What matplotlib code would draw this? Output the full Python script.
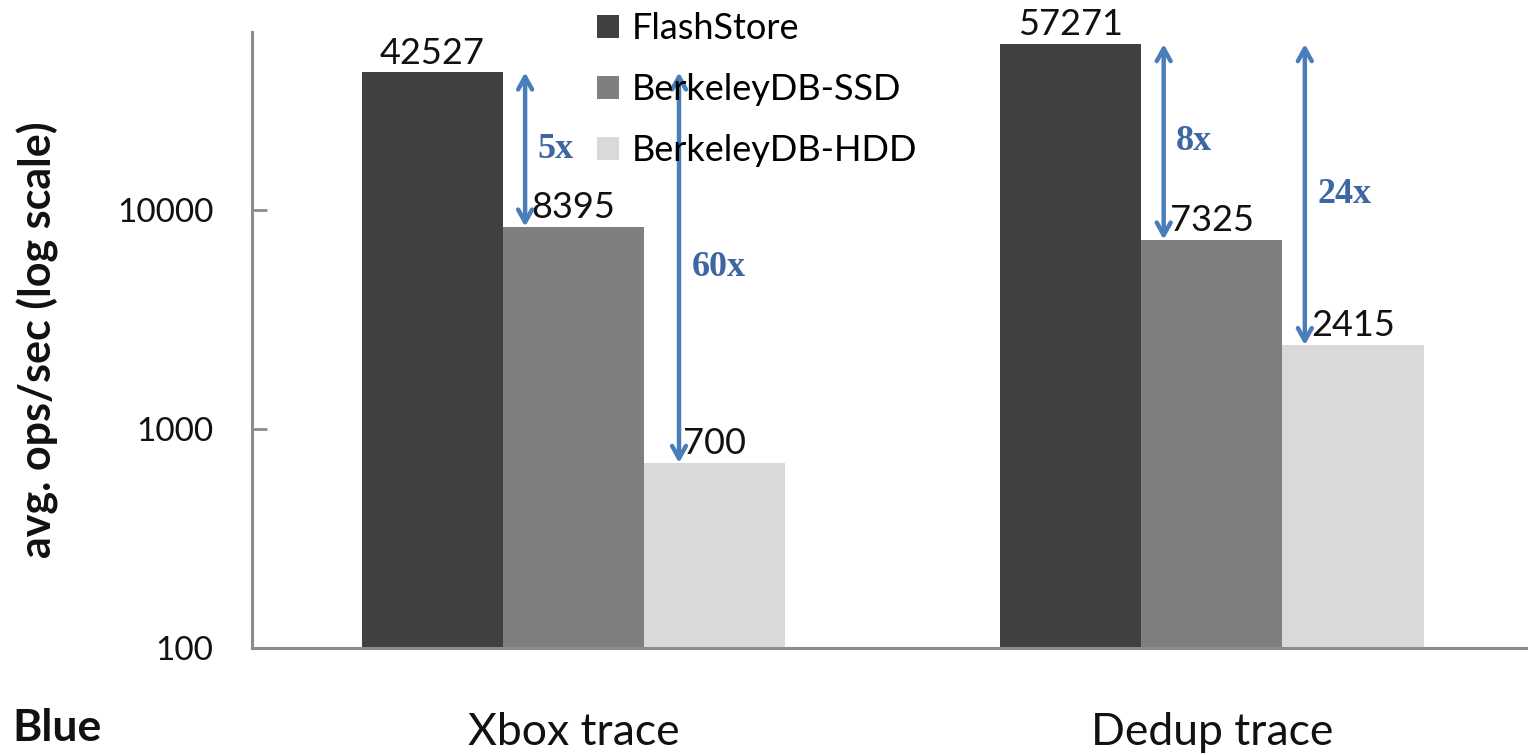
import numpy as np
import matplotlib
matplotlib.use("Agg")
import matplotlib.pyplot as plt

# data
groups = ["Xbox trace", "Dedup trace"]
series = ["FlashStore", "BerkeleyDB-SSD", "BerkeleyDB-HDD"]
flashstore = [42527, 57271]
bdb_ssd = [8395, 7325]
bdb_hdd = [700, 2415]
ratio_ssd = ["5x", "8x"]
ratio_hdd = ["60x", "24x"]

colors = ["#404040", "#7f7f7f", "#d9d9d9"]
arrow_c = "#4a7ebb"
ratio_c = "#3d67a2"
spine_c = "#8c8c8c"

plt.rcParams["font.family"] = ["Lato", "DejaVu Sans"]

fig = plt.figure(figsize=(15.28, 7.55), dpi=100)
ax = fig.add_axes([0.165, 0.1417, 0.835, 0.8159])

x = np.arange(len(groups))
w = 0.221
vals = [flashstore, bdb_ssd, bdb_hdd]
for i, (name, v) in enumerate(zip(series, vals)):
    xs = x + (i - 1) * w
    ax.bar(xs, v, width=w, color=colors[i], label=name, zorder=2)
    for xi, vi in zip(xs, v):
        ax.annotate(str(vi), (xi, vi), xytext=(0, 2), textcoords="offset points",
                    ha="center", va="bottom", fontsize=26, color="#111111")

ax.set_yscale("log")
ax.set_ylim(100, 65000)
ax.set_xlim(-0.503, 1.495)
ax.set_yticks([100, 1000, 10000])
ax.set_yticklabels(["100", "1000", "10000"])
ax.minorticks_off()
ax.tick_params(axis="y", direction="in", length=11, width=2, color=spine_c,
               labelsize=24, pad=28, labelcolor="#111111")
ax.tick_params(axis="x", length=0, labelsize=32, pad=46, labelcolor="#111111")
ax.set_xticks(x)
ax.set_xticklabels(groups)

for s in ["top", "right"]:
    ax.spines[s].set_visible(False)
for s in ["left", "bottom"]:
    ax.spines[s].set_color(spine_c)
    ax.spines[s].set_linewidth(2.2)

ax.set_ylabel("avg. ops/sec (log scale)", fontsize=31, fontweight="bold",
              color="#111111")
ax.yaxis.set_label_coords(-0.151, 0.5)

# ratio arrows
offsets = [0.035, 0.055]
for j in range(len(groups)):
    for k, (other, lab) in enumerate([(bdb_ssd, ratio_ssd), (bdb_hdd, ratio_hdd)]):
        left = x[j] + (k - 0.5) * w
        ax_x = left + (offsets[k] if j == 0 else 0.035)
        ax.annotate("", xy=(ax_x, other[j]), xytext=(ax_x, flashstore[j]),
                    arrowprops=dict(arrowstyle="<->,head_length=0.9,head_width=0.5",
                                    color=arrow_c, lw=3.2, shrinkA=0, shrinkB=0),
                    zorder=4)
        ym = np.sqrt(other[j] * flashstore[j])
        ax.annotate(lab[j], (ax_x, ym), xytext=(9, 0), textcoords="offset points",
                    ha="left", va="center", fontsize=26, fontweight="bold",
                    family="Liberation Serif", color=ratio_c, zorder=5)

fig.legend(loc="upper left", bbox_to_anchor=(597 / 1528, 1 - 12 / 755),
           frameon=False, fontsize=26, handlelength=0.62, handleheight=0.62,
           handletextpad=0.35, labelspacing=0.78, borderpad=0, borderaxespad=0)

fig.text(12 / 1528, 1 - 728 / 755, "Blue", fontsize=32, fontweight="bold",
         ha="left", va="center", color="#111111")

fig.savefig("out.png", dpi=100)
